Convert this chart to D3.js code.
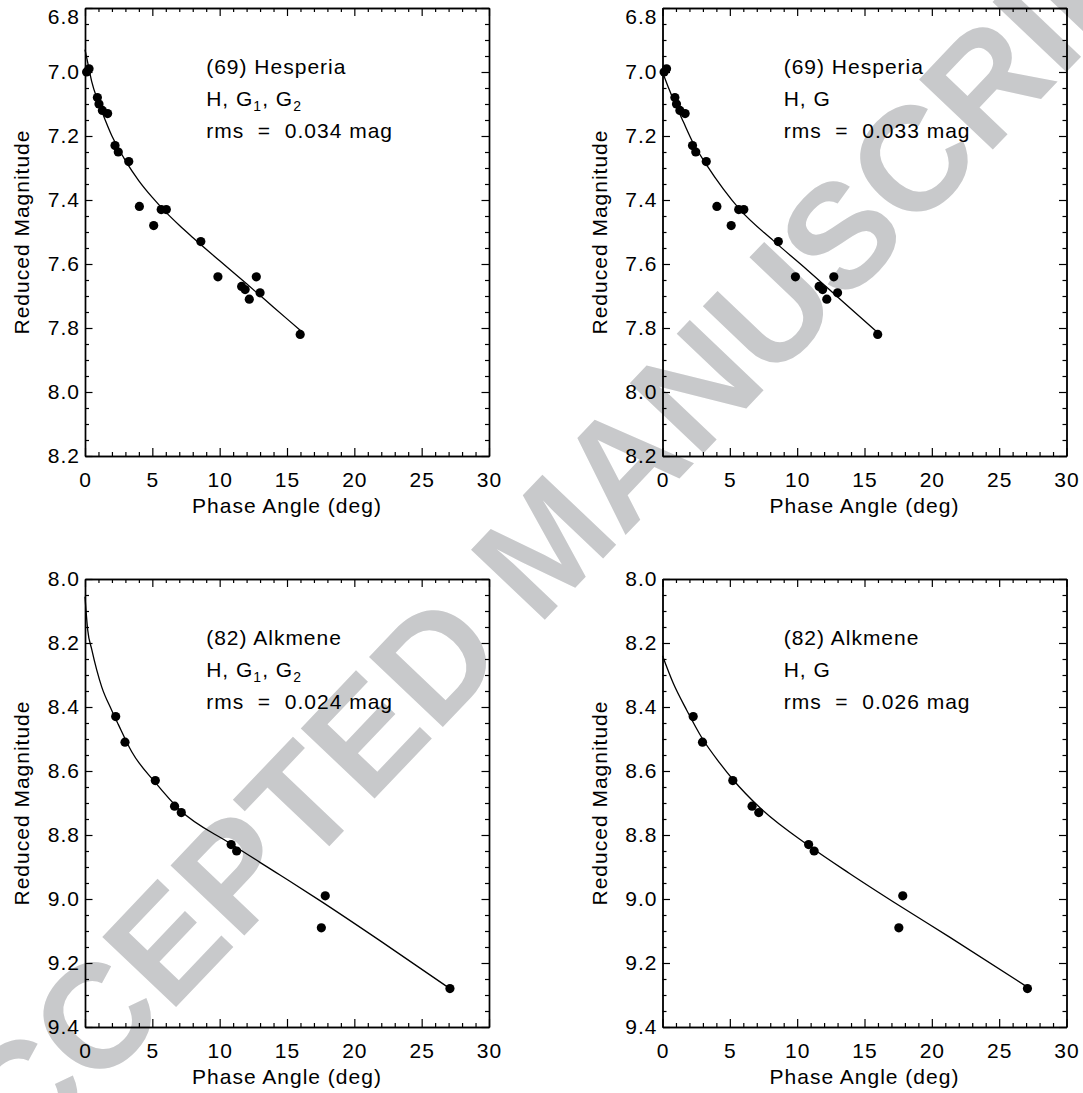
<!DOCTYPE html>
<html>
<head>
<meta charset="utf-8">
<script src="https://cdn.jsdelivr.net/npm/d3@7"></script>
<style>
  html, body { margin: 0; padding: 0; background: #fff; }
  svg { display: block; }
  text { font-family: "Liberation Sans", Arial, sans-serif; }
</style>
</head>
<body>
<svg id="chart" width="1083" height="1093"></svg>
<script>
// ---------------- data ----------------
const xTicks = [0, 5, 10, 15, 20, 25, 30];
const yTicksHes = [6.8, 7.0, 7.2, 7.4, 7.6, 7.8, 8.0, 8.2];
const yTicksAlk = [8.0, 8.2, 8.4, 8.6, 8.8, 9.0, 9.2, 9.4];

// (69) Hesperia observations
const hesPhase = [0.12, 0.30, 0.92, 1.04, 1.29, 1.68, 2.23, 2.47, 3.25, 4.04, 5.10, 5.66, 6.04, 8.60, 9.87, 11.63, 11.89, 12.20, 12.72, 13.00, 15.98];
const hesMag   = [7.00, 6.99, 7.08, 7.10, 7.12, 7.13, 7.23, 7.25, 7.28, 7.42, 7.48, 7.43, 7.43, 7.53, 7.64, 7.67, 7.68, 7.71, 7.64, 7.69, 7.82];

// (82) Alkmene observations
const alkPhase = [2.28, 2.97, 5.22, 6.65, 7.15, 10.85, 11.26, 17.84, 17.55, 27.10];
const alkMag   = [8.43, 8.51, 8.63, 8.71, 8.73, 8.83, 8.85, 8.99, 9.09, 9.28];

// fitted curves
const hesG12Phase = [0, 0.25, 0.5, 1.0, 1.5, 2.0, 2.5, 3.0, 4.0, 5.0, 6.0, 7.0, 8.0, 10.0, 12.0, 14.0, 16.0];
const hesG12Mag   = [6.93, 6.98, 7.03, 7.095, 7.15, 7.20, 7.24, 7.277, 7.34, 7.392, 7.438, 7.479, 7.517, 7.59, 7.662, 7.735, 7.808];

const hesGPhase = [0, 0.5, 0.93, 1.54, 2.28, 3.27, 4.51, 5.75, 8.23, 10.71, 13.19, 15.91];
const hesGMag   = [7.00, 7.055, 7.098, 7.155, 7.222, 7.29, 7.365, 7.43, 7.527, 7.617, 7.71, 7.812];

const alkG12Phase = [0, 0.2, 0.5, 0.87, 1.24, 1.98, 2.48, 3.47, 5.2, 7.05, 10.77, 14.48, 17.45, 21.9, 27.1];
const alkG12Mag   = [8.055, 8.159, 8.22, 8.284, 8.337, 8.41, 8.455, 8.54, 8.635, 8.722, 8.826, 8.925, 9.005, 9.13, 9.28];

const alkGPhase = [0, 0.8, 1.8, 2.98, 4.27, 5.26, 7.24, 10.95, 13.92, 17.63, 21.35, 27.05];
const alkGMag   = [8.24, 8.326, 8.41, 8.50, 8.576, 8.628, 8.715, 8.836, 8.921, 9.022, 9.12, 9.274];

const panels = [
  { left: 85,    top: 8,   yDomain: [6.8, 8.2], yTicks: yTicksHes, name: "(69) Hesperia", model: "G12", rms: "rms = 0.034 mag",
    px: hesPhase, py: hesMag, cx: hesG12Phase, cy: hesG12Mag },
  { left: 662.5, top: 8,   yDomain: [6.8, 8.2], yTicks: yTicksHes, name: "(69) Hesperia", model: "G",   rms: "rms = 0.033 mag",
    px: hesPhase, py: hesMag, cx: hesGPhase, cy: hesGMag },
  { left: 85,    top: 579, yDomain: [8.0, 9.4], yTicks: yTicksAlk, name: "(82) Alkmene",  model: "G12", rms: "rms = 0.024 mag",
    px: alkPhase, py: alkMag, cx: alkG12Phase, cy: alkG12Mag },
  { left: 662.5, top: 579, yDomain: [8.0, 9.4], yTicks: yTicksAlk, name: "(82) Alkmene",  model: "G",   rms: "rms = 0.026 mag",
    px: alkPhase, py: alkMag, cx: alkGPhase, cy: alkGMag }
];

// ---------------- drawing ----------------
const svg = d3.select("#chart");
const W = 404, H = 448;
const FS = 21, LS = 1;

// watermark (behind)
svg.append("text")
  .attr("transform", "translate(546,544) rotate(-46.4)")
  .attr("text-anchor", "middle")
  .attr("dominant-baseline", "central")
  .style("font-family", "'Liberation Sans', Arial, sans-serif")
  .style("font-weight", "bold")
  .style("font-size", "148px")
  .attr("fill", "#c8c9cb")
  .text("ACCEPTED MANUSCRIPT");

panels.forEach(p => {
  const g = svg.append("g").attr("transform", `translate(${p.left},${p.top})`);
  const x = d3.scaleLinear().domain([0, 30]).range([0, W]);
  const y = d3.scaleLinear().domain(p.yDomain).range([0, H]);

  const xMinor = d3.range(0, 30.001, 1).filter(v => v % 5 !== 0);
  const yMinor = d3.range(0, 29).map(i => +(p.yDomain[0] + i * 0.05).toFixed(2))
                    .filter(v => Math.round(v * 100) % 20 !== 0);

  function styleAxis(sel) {
    sel.selectAll("path.domain").attr("stroke", "#000").attr("stroke-width", 1.4);
    sel.selectAll(".tick line").attr("stroke", "#000").attr("stroke-width", 1.2);
    sel.selectAll("text").attr("fill", "#000")
      .style("font-size", FS + "px").style("letter-spacing", LS + "px")
      .style("font-family", "'Liberation Sans', Arial, sans-serif");
  }

  // bottom axis with labels
  g.append("g").attr("transform", `translate(0,${H})`)
    .call(d3.axisBottom(x).tickValues(xTicks).tickSizeInner(-8).tickSizeOuter(0).tickPadding(16).tickFormat(d3.format("d")))
    .call(styleAxis);
  g.append("g").attr("transform", `translate(0,${H})`)
    .call(d3.axisBottom(x).tickValues(xMinor).tickSizeInner(-4).tickSizeOuter(0).tickFormat(""))
    .call(styleAxis);
  // top axis
  g.append("g")
    .call(d3.axisTop(x).tickValues(xTicks).tickSizeInner(-8).tickSizeOuter(0).tickFormat(""))
    .call(styleAxis);
  g.append("g")
    .call(d3.axisTop(x).tickValues(xMinor).tickSizeInner(-4).tickSizeOuter(0).tickFormat(""))
    .call(styleAxis);
  // left axis with labels
  const la = g.append("g")
    .call(d3.axisLeft(y).tickValues(p.yTicks).tickSizeInner(-7.5).tickSizeOuter(0).tickPadding(5).tickFormat(d3.format(".1f")))
    .call(styleAxis);
  // keep the top label inside the page (as in the original figure)
  if (p.top < 20) {
    la.selectAll(".tick text").filter(d => d === p.yDomain[0]).attr("y", 9);
  }
  g.append("g")
    .call(d3.axisLeft(y).tickValues(yMinor).tickSizeInner(-4).tickSizeOuter(0).tickFormat(""))
    .call(styleAxis);
  // right axis
  g.append("g").attr("transform", `translate(${W},0)`)
    .call(d3.axisRight(y).tickValues(p.yTicks).tickSizeInner(-7.5).tickSizeOuter(0).tickFormat(""))
    .call(styleAxis);
  g.append("g").attr("transform", `translate(${W},0)`)
    .call(d3.axisRight(y).tickValues(yMinor).tickSizeInner(-4).tickSizeOuter(0).tickFormat(""))
    .call(styleAxis);

  // axis titles
  g.append("text")
    .attr("x", W / 2).attr("y", H + 57)
    .attr("text-anchor", "middle")
    .style("font-size", FS + "px").style("letter-spacing", LS + "px")
    .text("Phase Angle (deg)");
  g.append("text")
    .attr("transform", `translate(-56,${H / 2}) rotate(-90)`)
    .attr("text-anchor", "middle")
    .style("font-size", FS + "px").style("letter-spacing", LS + "px")
    .text("Reduced Magnitude");

  // curve
  const curveData = p.cx.map((v, i) => [v, p.cy[i]]);
  g.append("path")
    .datum(curveData)
    .attr("fill", "none")
    .attr("stroke", "#000")
    .attr("stroke-width", 1.3)
    .attr("d", d3.line().x(d => x(d[0])).y(d => y(d[1])).curve(d3.curveMonotoneX));

  // points
  g.selectAll("circle.pt")
    .data(p.px.map((v, i) => [v, p.py[i]]))
    .enter().append("circle")
    .attr("class", "pt")
    .attr("cx", d => x(d[0])).attr("cy", d => y(d[1]))
    .attr("r", 4.6).attr("fill", "#000");

  // annotation
  const ax = x(9);
  const t = g.append("g").style("font-size", FS + "px").style("letter-spacing", LS + "px");
  t.append("text").attr("x", ax).attr("y", 66).text(p.name);
  const l2 = t.append("text").attr("x", ax).attr("y", 98);
  if (p.model === "G12") {
    l2.append("tspan").text("H, G");
    l2.append("tspan").attr("dy", 5).style("font-size", "14px").text("1");
    l2.append("tspan").attr("dy", -5).text(", G");
    l2.append("tspan").attr("dy", 5).style("font-size", "14px").text("2");
  } else {
    l2.text("H, G");
  }
  t.append("text").attr("x", ax).attr("y", 130).attr("xml:space", "preserve").style("white-space", "pre").text(p.rms.replace(/ = /, "  =  "));
});
</script>
</body>
</html>
